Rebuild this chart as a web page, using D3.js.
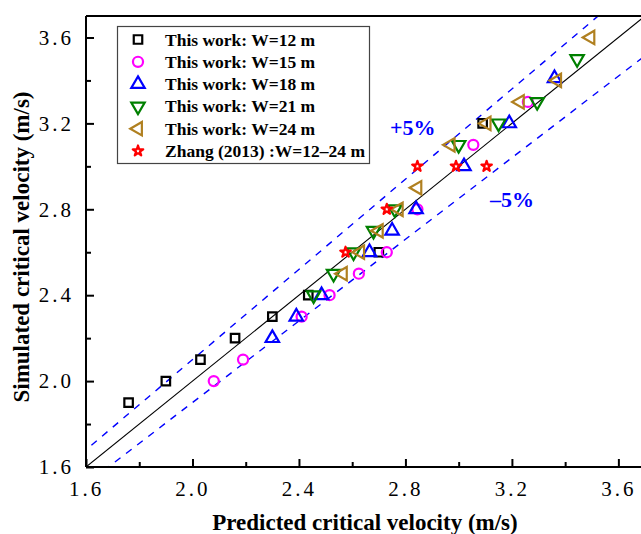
<!DOCTYPE html>
<html><head><meta charset="utf-8">
<script src="https://cdn.jsdelivr.net/npm/d3@7"></script>
<style>body{margin:0;background:#fff}svg{display:block}</style>
</head><body>
<svg id="c" width="641" height="534"></svg>
<script>
// ---- data ----
const xTicks = [1.6, 2.0, 2.4, 2.8, 3.2, 3.6];
const yTicks = [1.6, 2.0, 2.4, 2.8, 3.2, 3.6];
const minorTicks = [1.8, 2.2, 2.6, 3.0, 3.4];
const w12 = [[1.76,1.9],[1.90,2.0],[2.03,2.1],[2.16,2.2],[2.30,2.3],[2.435,2.4],[2.70,2.6],[3.09,3.2]];
const w15 = [[2.08,2.0],[2.19,2.1],[2.41,2.3],[2.515,2.4],[2.625,2.5],[2.73,2.6],[2.845,2.8],[3.055,3.1],[3.26,3.3]];
const w18 = [[2.30,2.2],[2.39,2.3],[2.485,2.4],[2.665,2.6],[2.75,2.7],[2.84,2.8],[3.02,3.0],[3.19,3.2],[3.36,3.41]];
const w21 = [[2.455,2.4],[2.53,2.5],[2.605,2.6],[2.68,2.7],[2.76,2.8],[3.0,3.1],[3.15,3.2],[3.295,3.3],[3.445,3.5]];
const w24 = [[2.565,2.5],[2.63,2.6],[2.70,2.7],[2.775,2.8],[2.845,2.9],[2.97,3.1],[3.105,3.2],[3.23,3.3],[3.37,3.4],[3.495,3.6]];
const zhang = [[2.575,2.6],[2.73,2.8],[2.845,3.0],[2.99,3.0],[3.105,3.0]];
const seriesNames = ["This work: W=12 m","This work: W=15 m","This work: W=18 m","This work: W=21 m","This work: W=24 m","Zhang (2013) :W=12\u201324 m"];

const svg = d3.select("#c");
const L = 86, T = 16, B = 467, R = 645;
const x = d3.scaleLinear().domain([1.6, 3.7]).range([L, R]);
const y = d3.scaleLinear().domain([1.6, 3.7]).range([B, T]);

const serif = "'Liberation Serif','Times New Roman',serif";

svg.append("defs").append("clipPath").attr("id","clip")
  .append("rect").attr("x",L).attr("y",T).attr("width",R-L).attr("height",B-T);

const g = svg.append("g").attr("clip-path","url(#clip)");
const line = d3.line().x(d=>x(d[0])).y(d=>y(d[1]));
const xs = [1.5, 3.8];
g.append("path").attr("d", line(xs.map(v=>[v, v]))).attr("stroke","#000").attr("stroke-width",1.1).attr("fill","none");
g.append("path").attr("d", line(xs.map(v=>[v, v*1.05]))).attr("stroke","#0000ff").attr("stroke-width",1.4).attr("stroke-dasharray","7,7").attr("fill","none");
g.append("path").attr("d", line(xs.map(v=>[v, v*0.95]))).attr("stroke","#0000ff").attr("stroke-width",1.4).attr("stroke-dasharray","7,7").attr("fill","none");

// markers
const series = [
  {data:w12, color:"#000000", type:"square"},
  {data:w15, color:"#ff00ff", type:"circle"},
  {data:w18, color:"#0000ff", type:"up"},
  {data:w21, color:"#008000", type:"down"},
  {data:w24, color:"#b08020", type:"left"},
  {data:zhang, color:"#ff0000", type:"star"}
];
function drawMarker(sel, type, color){
  let sym, rot = 0, size;
  if(type==="square"){ sym=d3.symbolSquare; size=72; }
  else if(type==="circle"){ sym=d3.symbolCircle; size=80; }
  else if(type==="star"){ sym=d3.symbolStar; size=34; }
  else { sym=d3.symbolTriangle; size=78; rot = type==="up"?0:(type==="down"?180:-90); }
  const p = sel.append("path").attr("d", d3.symbol().type(sym).size(size)());
  if(type==="star"){ p.attr("fill","#fff").attr("stroke",color).attr("stroke-width",2.2).attr("stroke-linejoin","round"); }
  else p.attr("fill","none").attr("stroke",color).attr("stroke-width",2.2);
  if(rot) p.attr("transform","rotate("+rot+")");
  return p;
}
const mg = svg.append("g");
series.forEach(s=>{
  s.data.forEach(d=>{
    const gg = mg.append("g").attr("transform",`translate(${x(d[0])},${y(d[1])})`);
    drawMarker(gg, s.type, s.color);
  });
});

// axes frame
svg.append("line").attr("x1",L).attr("x2",L).attr("y1",T).attr("y2",B).attr("stroke","#000").attr("stroke-width",2);
svg.append("line").attr("x1",L).attr("x2",R).attr("y1",B).attr("y2",B).attr("stroke","#000").attr("stroke-width",2);
svg.append("line").attr("x1",L).attr("x2",R).attr("y1",T).attr("y2",T).attr("stroke","#000").attr("stroke-width",2);
svg.append("line").attr("x1",R).attr("x2",R).attr("y1",T).attr("y2",B).attr("stroke","#000").attr("stroke-width",2);

const fmt = d3.format(".1f");
const xAxis = d3.axisBottom(x).tickValues(xTicks).tickSize(-8).tickPadding(14).tickFormat(fmt);
const xg = svg.append("g").attr("transform",`translate(0,${B})`).call(xAxis);
const yAxis = d3.axisLeft(y).tickValues(yTicks).tickSize(-8).tickPadding(14).tickFormat(fmt);
const yg = svg.append("g").attr("transform",`translate(${L},0)`).call(yAxis);
[xg,yg].forEach(a=>{
  a.select(".domain").remove();
  a.selectAll(".tick line").attr("stroke","#000").attr("stroke-width",2);
  a.selectAll("text").attr("font-family",serif).attr("font-size",21).attr("letter-spacing","3px").attr("fill","#000");
});
yg.selectAll("text").attr("dx","2px");
svg.append("g").attr("transform",`translate(0,${B})`).call(d3.axisBottom(x).tickValues(minorTicks).tickSize(-5).tickFormat(""))
  .call(a=>{a.select(".domain").remove();a.selectAll("line").attr("stroke","#000").attr("stroke-width",2);});
svg.append("g").attr("transform",`translate(${L},0)`).call(d3.axisLeft(y).tickValues(minorTicks).tickSize(-5).tickFormat(""))
  .call(a=>{a.select(".domain").remove();a.selectAll("line").attr("stroke","#000").attr("stroke-width",2);});

// axis titles
svg.append("text").attr("x",365).attr("y",530).attr("text-anchor","middle")
  .attr("font-family",serif).attr("font-weight","bold").attr("font-size",23).text("Predicted critical velocity (m/s)");
svg.append("text").attr("transform","translate(29,247) rotate(-90)").attr("text-anchor","middle")
  .attr("font-family",serif).attr("font-weight","bold").attr("font-size",23).text("Simulated critical velocity (m/s)");

// band labels
svg.append("text").attr("x",390).attr("y",135).attr("font-family",serif).attr("font-weight","bold").attr("font-size",22).attr("fill","#0000ff").text("+5%");
svg.append("text").attr("x",490).attr("y",207).attr("font-family",serif).attr("font-weight","bold").attr("font-size",22).attr("fill","#0000ff").text("\u20135%");

// legend
const lg = svg.append("g");
lg.append("rect").attr("x",117.5).attr("y",26.5).attr("width",252).attr("height",137).attr("fill","#fff").attr("stroke","#444").attr("stroke-width",1.2);
series.forEach((s,i)=>{
  const yy = 39.5 + i*22.3;
  const gg = lg.append("g").attr("transform",`translate(138,${yy})`);
  drawMarker(gg, s.type, s.color);
  lg.append("text").attr("x",165).attr("y",yy+6).attr("font-family",serif).attr("font-weight","bold").attr("font-size",17.5).text(seriesNames[i]);
});
</script>
</body></html>
